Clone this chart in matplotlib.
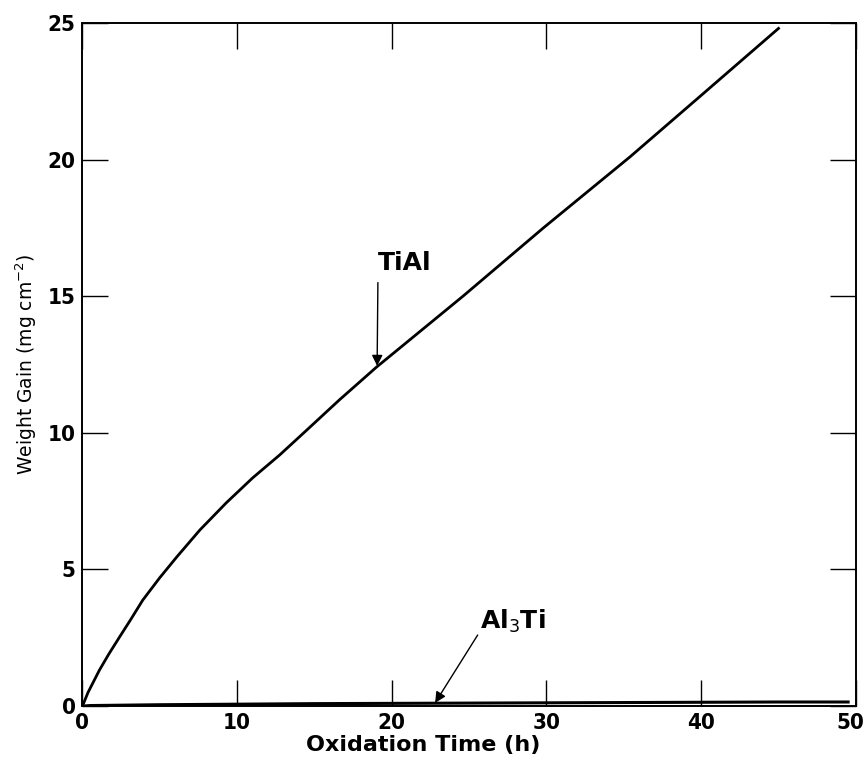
import matplotlib
matplotlib.use("Agg")
import matplotlib.pyplot as plt
import matplotlib.font_manager as fm
from matplotlib.transforms import ScaledTranslation

# =========================
# Data
# =========================
tial_time = [0, 0.36, 1.1, 1.7, 2.4, 3.1, 3.9, 5.0, 6.1, 7.6, 9.3, 11.0,
             12.75, 14.5, 16.6, 19.0, 24.6, 29.8, 35.4, 39.9, 45.0]
tial_gain = [0, 0.5, 1.32, 1.90, 2.53, 3.15, 3.88, 4.7, 5.46, 6.45, 7.44, 8.35,
             9.19, 10.1, 11.2, 12.4, 15.0, 17.5, 20.1, 22.3, 24.8]

al3ti_time = [0, 0.5, 2, 5, 10, 15, 20, 25, 30, 35, 40, 45, 49.5]
al3ti_gain = [0, 0.02, 0.03, 0.05, 0.07, 0.09, 0.10, 0.11, 0.12, 0.13, 0.14, 0.15, 0.15]

xticks = [0, 10, 20, 30, 40, 50]
yticks = [0, 5, 10, 15, 20, 25]


def pick_font(candidates, default="DejaVu Sans"):
    installed = {f.name for f in fm.fontManager.ttflist}
    for name in candidates:
        if name in installed:
            return name
    return default


tick_font = pick_font(["Liberation Sans Narrow", "DejaVu Sans"])

fig = plt.figure(figsize=(8.68, 7.65), dpi=100)
ax = fig.add_axes([0.095, 0.077, 0.891, 0.893])

ax.plot(tial_time, tial_gain, color="black", linewidth=2.0)
ax.plot(al3ti_time, al3ti_gain, color="black", linewidth=2.2)

ax.set_xlim(0, 50)
ax.set_ylim(0, 25)
ax.set_xticks(xticks)
ax.set_yticks(yticks)
ax.tick_params(direction="in", length=19, width=1.0, top=True, right=True,
               pad=5, labelsize=16)
for lab in ax.get_xticklabels() + ax.get_yticklabels():
    lab.set_fontfamily(tick_font)
    lab.set_fontweight("bold")
    lab.set_fontstretch("condensed")

# nudge the "50" label so it stays inside the figure
last = ax.xaxis.get_major_ticks()[-1].label1
last.set_transform(last.get_transform() + ScaledTranslation(-4 / 72, 0, fig.dpi_scale_trans))

for sp in ax.spines.values():
    sp.set_linewidth(1.4)

ax.set_xlabel("Oxidation Time (h)", fontsize=16, fontweight="bold")
ax.xaxis.set_label_coords(0.44, -0.042)
ax.set_ylabel("Weight Gain (mg cm$^{-2}$)", fontsize=13.5, labelpad=6)

# labels with arrows
ax.text(20.85, 16.2, "TiAl", fontsize=18, fontweight="bold", ha="center", va="center")
ax.annotate("", xy=(19.05, 12.45), xytext=(19.1, 15.5),
            arrowprops=dict(arrowstyle="-|>", color="black", lw=1.0,
                            mutation_scale=16, shrinkA=0, shrinkB=0))

ax.text(25.7, 3.1, "Al$_3$Ti", fontsize=18, fontweight="bold", ha="left", va="center")
ax.annotate("", xy=(22.8, 0.12), xytext=(25.55, 2.6),
            arrowprops=dict(arrowstyle="-|>", color="black", lw=1.0,
                            mutation_scale=16, shrinkA=0, shrinkB=0))

fig.savefig("out.png", dpi=100)
